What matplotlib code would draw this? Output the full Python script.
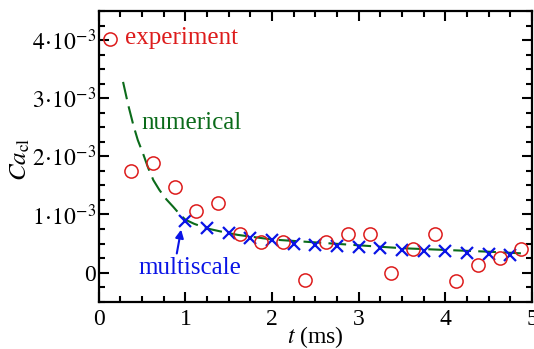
import numpy as np
import matplotlib
matplotlib.use('Agg')
import matplotlib.pyplot as plt
from matplotlib.ticker import MultipleLocator, FixedLocator

plt.rcParams['font.family'] = 'Liberation Serif'
plt.rcParams['mathtext.fontset'] = 'stix'

# experiment (red circles)
exp_t = [0.125, 0.375, 0.625, 0.875, 1.125, 1.375, 1.625, 1.875, 2.125, 2.375,
         2.625, 2.875, 3.125, 3.375, 3.625, 3.875, 4.125, 4.375, 4.625, 4.875]
exp_ca = [4.01, 1.74, 1.88, 1.47, 1.06, 1.20, 0.66, 0.53, 0.53, -0.13,
          0.53, 0.66, 0.66, -0.01, 0.40, 0.66, -0.14, 0.13, 0.26, 0.40]

# multiscale (blue crosses)
ms_t = [1.0, 1.25, 1.5, 1.75, 2.0, 2.25, 2.5, 2.75, 3.0, 3.25, 3.5, 3.75,
        4.0, 4.25, 4.5, 4.75]
ms_ca = [0.88, 0.76, 0.69, 0.60, 0.56, 0.50, 0.475, 0.46, 0.435, 0.42, 0.39,
         0.38, 0.38, 0.33, 0.32, 0.30]

# numerical (green dashed)
num_t = [0.28, 0.34, 0.40, 0.45, 0.51, 0.57, 0.63, 0.70, 0.78, 0.86, 0.93,
         1.0, 1.1, 1.25, 1.4, 1.6, 1.8, 2.0, 2.5, 3.0, 3.5, 4.0, 4.5, 4.9]
num_ca = [3.28, 2.88, 2.53, 2.28, 2.05, 1.80, 1.59, 1.42, 1.26, 1.13, 1.01,
          0.91, 0.84, 0.76, 0.71, 0.65, 0.61, 0.57, 0.52, 0.47, 0.42, 0.39,
          0.36, 0.33]

red = '#dd1c1c'
blue = '#0a14e6'
green = '#0b6b1a'

fig = plt.figure(figsize=(5.34, 3.49), dpi=100)
ax = fig.add_axes([0.185, 0.1355, 0.8115, 0.833])

ax.plot(num_t, np.array(num_ca) * 1e-3, color=green, lw=1.5, dashes=(8.5, 3.5))
ax.plot(ms_t, np.array(ms_ca) * 1e-3, 'x', color=blue, ms=9, mew=1.6, ls='none')
ax.plot(exp_t, np.array(exp_ca) * 1e-3, 'o', mfc='none', mec=red, ms=9.5,
        mew=1.1, ls='none')

ax.set_xlim(0, 5)
ax.set_ylim(-0.5e-3, 4.5e-3)

ax.xaxis.set_major_locator(FixedLocator([0, 1, 2, 3, 4, 5]))
ax.xaxis.set_minor_locator(MultipleLocator(0.25))
ax.yaxis.set_major_locator(FixedLocator([0, 1e-3, 2e-3, 3e-3, 4e-3]))
ax.yaxis.set_minor_locator(MultipleLocator(0.25e-3))
ax.set_yticklabels(['0', r'$1\!\cdot\!10^{-3}$', r'$2\!\cdot\!10^{-3}$',
                    r'$3\!\cdot\!10^{-3}$', r'$4\!\cdot\!10^{-3}$'])
ax.set_xticklabels(['0', '1', '2', '3', '4', '5'])

ax.tick_params(which='both', direction='in', top=True, right=True,
               labelsize=17, width=1.5)
ax.tick_params(which='major', length=7)
ax.tick_params(axis='y', which='major', pad=2)
ax.tick_params(axis='x', which='major', pad=5)
ax.tick_params(which='minor', length=4)
for s in ax.spines.values():
    s.set_linewidth(1.6)

ax.set_xlabel(r'$t$ (ms)', fontsize=17, labelpad=-4)
ax.set_ylabel(r'$Ca_{\mathrm{cl}}$', fontsize=18)
ax.yaxis.set_label_coords(-0.155, 0.49)

ax.text(0.30, 4.04e-3, 'experiment', color=red, fontsize=18, va='center')
ax.text(0.49, 2.58e-3, 'numerical', color=green, fontsize=18, va='center')
ax.text(0.46, 0.08e-3, 'multiscale', color=blue, fontsize=18, va='center')
ax.annotate('', xy=(0.95, 0.74e-3), xytext=(0.90, 0.33e-3),
            arrowprops=dict(arrowstyle='-|>', color=blue, lw=1.5,
                            mutation_scale=12, shrinkA=0, shrinkB=0))

fig.savefig('out.png', dpi=100)
